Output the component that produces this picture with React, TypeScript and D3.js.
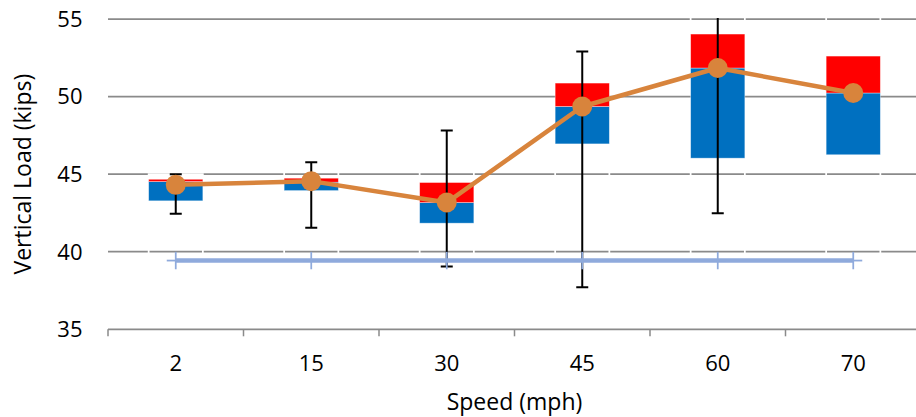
import React from "react";
import * as d3 from "d3";

// Speed categories (mph)
const categories = ["2", "15", "30", "45", "60", "70"];
// Blue box: lower edge and upper edge (kips)
const blueLow = [43.28, 43.94, 41.84, 46.95, 46.03, 46.25];
const blueHigh = [44.52, 44.48, 43.17, 49.36, 51.84, 50.23];
// Red box upper edge (kips)
const redHigh = [44.67, 44.74, 44.46, 50.87, 54.03, 52.61];
// Invisible top segment upper edge (also error-bar top)
const topSegment = [45.0, 45.77, 47.81, 52.91, 57.5, 57.5];
// Error-bar lower end (null = no error bar)
const errLow: (number | null)[] = [42.44, 41.55, 39.04, 37.71, 42.48, null];
// Mean line (kips)
const meanLoad = [44.31, 44.55, 43.17, 49.36, 51.84, 50.23];
// Reference line (kips)
const refLoad = [39.43, 39.43, 39.43, 39.43, 39.43, 39.43];
// Y ticks
const yTicks = [35, 40, 45, 50, 55];

const W = 916;
const H = 417;
const M = { left: 108, right: 921, top: 19, bottom: 329.3 };
const FONT = "'Open Sans', 'Noto Sans', sans-serif";
const GRID = "#8a8a8a";
const BLUE = "#0070C0";
const RED = "#FF0000";
const ORANGE = "#D8843C";
const LIGHTBLUE = "#8FAADC";

export default function App() {
  const x = d3.scaleBand<string>().domain(categories).range([M.left, M.right]).padding(0);
  const y = d3.scaleLinear().domain([35, 55]).range([M.bottom, M.top]);
  const bw = x.bandwidth() * 0.4;
  const cx = (c: string) => (x(c) as number) + x.bandwidth() / 2;

  const meanLine = d3
    .line<number>()
    .x((_, i) => cx(categories[i]))
    .y((d) => y(d))(meanLoad) as string;
  const refLine = d3
    .line<number>()
    .x((_, i) => cx(categories[i]))
    .y((d) => y(d))(refLoad) as string;

  const boundaries = d3.range(categories.length + 1).map((i) => M.left + i * x.bandwidth());

  return (
    <svg
      width={W}
      height={H}
      viewBox={`0 0 ${W} ${H}`}
      style={{ position: "absolute", left: 0, top: 0, background: "#fff" }}
    >
      <defs>
        <clipPath id="plotClip">
          <rect x={M.left} y={M.top - 1} width={M.right - M.left} height={M.bottom - M.top + 1} />
        </clipPath>
      </defs>
      <rect x={0} y={0} width={W} height={H} fill="#fff" />

      {/* gridlines */}
      {yTicks
        .filter((t) => t > 35)
        .map((t) => (
          <line key={"g" + t} x1={M.left} x2={M.right} y1={y(t)} y2={y(t)} stroke={GRID} strokeWidth={1.75} />
        ))}

      <g clipPath="url(#plotClip)">
        {/* invisible stacked segments with white outlines */}
        {categories.map((c, i) => (
          <g key={"inv" + c}>
            <rect
              x={cx(c) - bw / 2}
              y={y(blueLow[i])}
              width={bw}
              height={y(35) - y(blueLow[i])}
              fill="none"
              stroke="#fff"
              strokeWidth={1.75}
            />
            <rect
              x={cx(c) - bw / 2}
              y={y(topSegment[i])}
              width={bw}
              height={y(redHigh[i]) - y(topSegment[i])}
              fill="none"
              stroke="#fff"
              strokeWidth={1.75}
            />
          </g>
        ))}

        {/* blue and red boxes */}
        {categories.map((c, i) => (
          <g key={"b" + c}>
            <rect
              x={cx(c) - bw / 2}
              y={y(blueHigh[i])}
              width={bw}
              height={y(blueLow[i]) - y(blueHigh[i])}
              fill={BLUE}
              stroke="#fff"
              strokeOpacity={0.5}
              strokeWidth={0.75}
            />
            <rect
              x={cx(c) - bw / 2}
              y={y(redHigh[i])}
              width={bw}
              height={y(blueHigh[i]) - y(redHigh[i])}
              fill={RED}
              stroke="#fff"
              strokeOpacity={0.5}
              strokeWidth={0.75}
            />
          </g>
        ))}

        {/* error bars */}
        {categories.map((c, i) => {
          const lo = errLow[i];
          if (lo === null) return null;
          const hi = topSegment[i];
          const xc = cx(c);
          return (
            <g key={"e" + c} stroke="#000" strokeWidth={2}>
              <line x1={xc} x2={xc} y1={y(hi)} y2={y(lo)} />
              <line x1={xc - 6} x2={xc + 6} y1={y(hi)} y2={y(hi)} />
              <line x1={xc - 6} x2={xc + 6} y1={y(lo)} y2={y(lo)} />
            </g>
          );
        })}
      </g>

      {/* x axis line and ticks */}
      <line x1={M.left} x2={M.right} y1={y(35)} y2={y(35)} stroke={GRID} strokeWidth={1.75} />
      {boundaries.map((b, i) => (
        <line key={"t" + i} x1={b} x2={b} y1={y(35)} y2={y(35) + 7} stroke={GRID} strokeWidth={1.5} />
      ))}

      {/* reference line with + markers */}
      <path d={refLine} fill="none" stroke={LIGHTBLUE} strokeWidth={4.5} />
      {categories.map((c, i) => (
        <g key={"p" + c} stroke={LIGHTBLUE} strokeWidth={1.75}>
          <line x1={cx(c) - 9} x2={cx(c) + 9} y1={y(refLoad[i])} y2={y(refLoad[i])} />
          <line x1={cx(c)} x2={cx(c)} y1={y(refLoad[i]) - 8.7} y2={y(refLoad[i]) + 8.7} />
        </g>
      ))}

      {/* mean line */}
      <path d={meanLine} fill="none" stroke={ORANGE} strokeWidth={4.5} strokeLinejoin="round" />
      {categories.map((c, i) => (
        <circle key={"m" + c} cx={cx(c)} cy={y(meanLoad[i])} r={10} fill={ORANGE} />
      ))}

      {/* y tick labels */}
      {yTicks.map((t) => (
        <text
          key={"yl" + t}
          x={82.5}
          y={y(t)}
          dy="0.36em"
          textAnchor="end"
          fontFamily={FONT}
          fontSize={22}
          fill="#000"
        >
          {t}
        </text>
      ))}

      {/* x tick labels */}
      {categories.map((c) => (
        <text
          key={"xl" + c}
          x={cx(c)}
          y={371}
          textAnchor="middle"
          fontFamily={FONT}
          fontSize={22}
          fill="#000"
        >
          {c}
        </text>
      ))}

      {/* axis titles */}
      <text
        x={(M.left + M.right) / 2}
        y={410}
        textAnchor="middle"
        fontFamily={FONT}
        fontSize={23}
        fill="#000"
      >
        Speed (mph)
      </text>
      <text
        transform={`translate(31, ${(M.top + M.bottom) / 2}) rotate(-90)`}
        textAnchor="middle"
        fontFamily={FONT}
        fontSize={23}
        fill="#000"
      >
        Vertical Load (kips)
      </text>
    </svg>
  );
}
